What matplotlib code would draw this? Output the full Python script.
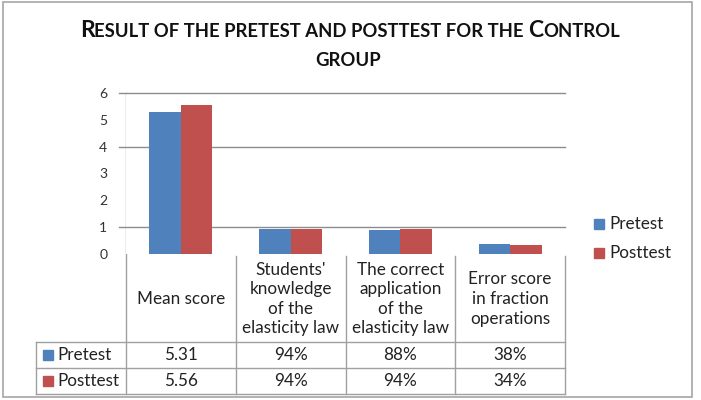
import matplotlib
matplotlib.use("Agg")
import matplotlib.pyplot as plt
from matplotlib.patches import Rectangle

plt.rcParams['font.family'] = ['Lato', 'DejaVu Sans']

categories = ["Mean score",
              "Students'\nknowledge\nof the\nelasticity law",
              "The correct\napplication\nof the\nelasticity law",
              "Error score\nin fraction\noperations"]
series_names = ["Pretest", "Posttest"]
pretest = [5.31, 0.94, 0.88, 0.38]
posttest = [5.56, 0.94, 0.94, 0.34]
pretest_labels = ["5.31", "94%", "88%", "38%"]
posttest_labels = ["5.56", "94%", "94%", "34%"]
yticks = [0, 1, 2, 3, 4, 5, 6]
gridlines = [1, 4, 6]

colors = ["#4F81BD", "#C0504D"]
W, H = 701, 400
fig = plt.figure(figsize=(W / 100, H / 100), dpi=100)

def fx(px):
    return px / W

def fy(py):
    return 1 - py / H

# main axes
L, R, T, B = 126, 565, 93, 254
ax = fig.add_axes([fx(L), fy(B), fx(R - L), (B - T) / H])
n = len(categories)
xs = list(range(n))
bw = 0.287
ax.bar([x - bw / 2 for x in xs], pretest, bw, color=colors[0], zorder=3)
ax.bar([x + bw / 2 for x in xs], posttest, bw, color=colors[1], zorder=3)
ax.set_xlim(-0.5, n - 0.5)
ax.set_ylim(0, 6)
ax.set_yticks(yticks)
ax.set_yticklabels([str(v) for v in yticks], fontsize=10, color="#333333")
ax.tick_params(axis='y', length=0, pad=13.5)
ax.set_xticks([])
for s in ["top", "right", "bottom", "left"]:
    ax.spines[s].set_visible(False)
for g in gridlines:
    ax.plot([-0.5 - 7 / 109.75, n - 0.5], [g, g], color="#8C8C8C", lw=1.0,
            clip_on=False, zorder=1)

# overlay axes in pixel coordinates
ov = fig.add_axes([0, 0, 1, 1], zorder=-1)
ov.set_xlim(0, W)
ov.set_ylim(H, 0)
ov.axis("off")

# outer border
ov.add_patch(Rectangle((2.5, 2), 689.5, 395, fill=False, ec="#A6A6A6", lw=1.2))

lc = "#A0A0A0"
ov.plot([L, L], [T, 394], color=lc, lw=1)
colw = (R - L) / n
for i in range(1, n):
    x = L + i * colw
    ov.plot([x, x], [256, 394], color=lc, lw=1)
ov.plot([R, R], [256, 394], color=lc, lw=1)
row_y = [342, 368, 394]
for y in row_y:
    ov.plot([36, R], [y, y], color=lc, lw=1)
ov.plot([36, 36], [342, 394], color=lc, lw=1)

fs = 12.3
# category labels
for i, c in enumerate(categories):
    ov.text(L + (i + 0.5) * colw, 299, c, ha="center", va="center",
            fontsize=fs, linespacing=1.28, color="#222222")

# table values
for r, (name, vals) in enumerate(zip(series_names, [pretest_labels, posttest_labels])):
    yc = (row_y[r] + row_y[r + 1]) / 2
    ov.add_patch(Rectangle((43, yc - 5), 10, 10, color=colors[r]))
    ov.text(57, yc, name, ha="left", va="center", fontsize=fs, color="#222222")
    for i, v in enumerate(vals):
        ov.text(L + (i + 0.5) * colw, yc, v, ha="center", va="center",
                fontsize=fs, color="#222222")

# legend
for r, name in enumerate(series_names):
    yc = [224, 253][r]
    ov.add_patch(Rectangle((594, yc - 5), 10, 10, color=colors[r]))
    ov.text(609, yc, name, ha="left", va="center", fontsize=fs, color="#222222")

# title in small caps
renderer = fig.canvas.get_renderer()
big, small = 16.5, 13.3
def width_of(s, size):
    t = ov.text(0, 0, s, fontsize=size, fontweight="bold")
    w = t.get_window_extent(renderer).width
    t.remove()
    return w
space = width_of("X X", small) - width_of("XX", small)
pieces = [("R", big), ("ESULT OF THE PRETEST AND POSTTEST FOR THE", small),
          (None, space), ("C", big), ("ONTROL", small)]
total = 0
widths = []
for s, sz in pieces:
    w = sz if s is None else width_of(s, sz)
    widths.append(w)
    total += w
x = 350 - total / 2
for (s, sz), w in zip(pieces, widths):
    if s is not None:
        ov.text(x, 36.7, s, fontsize=sz, fontweight="bold", ha="left",
                va="baseline", color="#111111")
    x += w
ov.text(348, 66.5, "GROUP", fontsize=small, fontweight="bold", ha="center",
        va="baseline", color="#111111")

fig.savefig("out.png", dpi=100)
